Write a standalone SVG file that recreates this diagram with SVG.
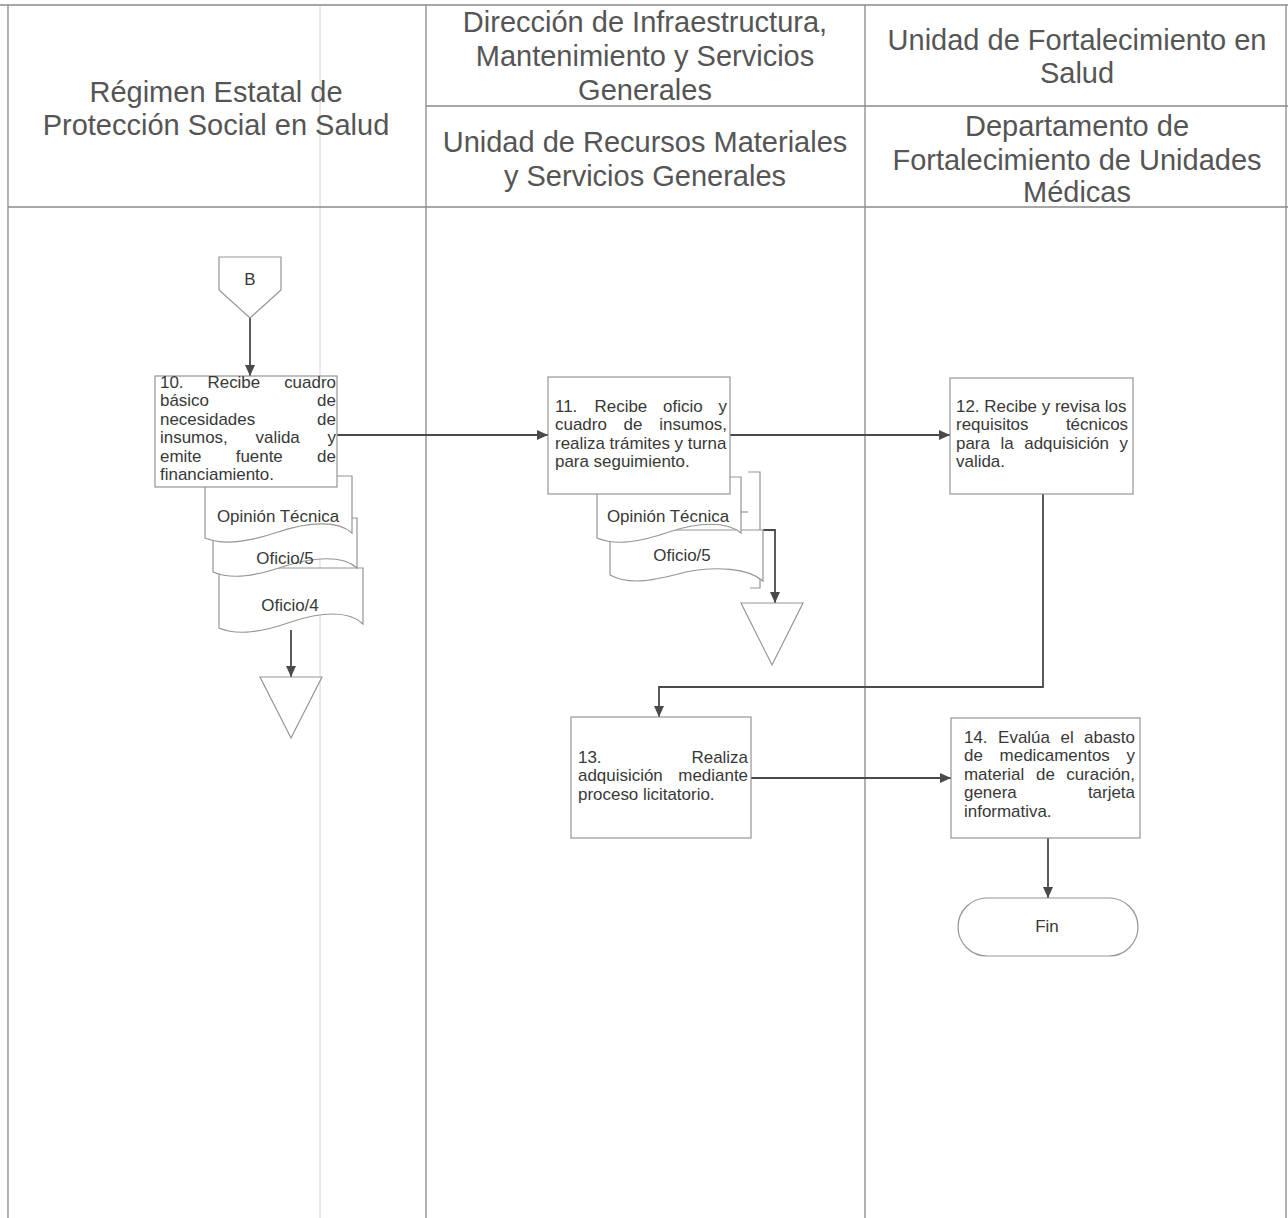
<svg xmlns="http://www.w3.org/2000/svg" width="1288" height="1218" viewBox="0 0 1288 1218">
  <defs>
    <marker id="arrow" markerUnits="userSpaceOnUse" markerWidth="11" markerHeight="10" refX="11" refY="5" orient="auto">
      <path d="M0,0 L11,5 L0,10 Z" fill="#4a4a4a"/>
    </marker>
    <style>
      .frame { stroke: #8a8a8a; stroke-width: 1.3; fill: none; }
      .fold { stroke: #d4d4d4; stroke-width: 1; fill: none; }
      .lane { font-family: "Liberation Sans", Arial, sans-serif; font-size: 29px; fill: #555; text-anchor: middle; }
      .shape { fill: #fff; stroke: #959595; stroke-width: 1.2; }
      .bracket { fill: none; stroke: #959595; stroke-width: 1.2; }
      .txt { font-family: "Liberation Sans", Arial, sans-serif; font-size: 16px; fill: #383838; }
      .mid { text-anchor: middle; }
      .end { text-anchor: end; }
      .conn { fill: none; stroke: #4a4a4a; stroke-width: 1.8; }
    </style>
  </defs>

  <rect width="1288" height="1218" fill="#fff"/>

  <!-- swimlane frame -->
  <g id="lanes">
    <path class="fold" d="M320,5 V1218"/>
    <path class="frame" d="M0,5 H1288 M8,5 V1218 M426,5 V1218 M865,5 V1218 M1286,5 V1218 M8,207 H1288 M426,106 H1288"/>
    <text class="lane" x="216" y="102">Régimen Estatal de</text>
    <text class="lane" x="216" y="135">Protección Social en Salud</text>
    <text class="lane" x="645" y="32">Dirección de Infraestructura,</text>
    <text class="lane" x="645" y="66">Mantenimiento y Servicios</text>
    <text class="lane" x="645" y="100">Generales</text>
    <text class="lane" x="645" y="152">Unidad de Recursos Materiales</text>
    <text class="lane" x="645" y="186">y Servicios Generales</text>
    <text class="lane" x="1077" y="50">Unidad de Fortalecimiento en</text>
    <text class="lane" x="1077" y="83">Salud</text>
    <text class="lane" x="1077" y="136">Departamento de</text>
    <text class="lane" x="1077" y="170">Fortalecimiento de Unidades</text>
    <text class="lane" x="1077" y="202">Médicas</text>
  </g>

  <!-- connectors -->
  <g id="connectors">
    <path class="conn" d="M250,318 V376" marker-end="url(#arrow)"/>
    <path class="conn" d="M337,435 H548" marker-end="url(#arrow)"/>
    <path class="conn" d="M730,435 H950" marker-end="url(#arrow)"/>
    <path class="conn" d="M291,630 V677" marker-end="url(#arrow)"/>
    <path class="conn" d="M763,530 H775 V603" marker-end="url(#arrow)"/>
    <path class="conn" d="M1043,494 V687 H659 V717" marker-end="url(#arrow)"/>
    <path class="conn" d="M751,778 H951" marker-end="url(#arrow)"/>
    <path class="conn" d="M1048,838 V898" marker-end="url(#arrow)"/>
  </g>

  <!-- off-page connector B -->
  <g id="connector-b">
    <path class="shape" d="M219,257 H281 V290 L250,318 L219,290 Z"/>
    <text class="txt mid" transform="translate(250,285) scale(1.06,1)">B</text>
  </g>

  <!-- documents produced in step 10 -->
  <g id="docs-10">
    <path class="shape" d="M219,568 H363 V624 C349,610 320,612 291,622 C262,632 238,636 219,628 Z"/>
    <text class="txt mid" transform="translate(290,611) scale(1.06,1)">Oficio/4</text>
    <path class="shape" d="M213,518 H357 V568 C343,555 314,557 285,566 C256,576 232,580 213,572 Z"/>
    <text class="txt mid" transform="translate(285,564) scale(1.06,1)">Oficio/5</text>
    <path class="shape" d="M205,476 H352 V533 C338,520 308,522 278,532 C249,542 224,546 205,538 Z"/>
    <text class="txt mid" transform="translate(278,522) scale(1.06,1)">Opinión Técnica</text>
  </g>

  <!-- step 10 -->
  <g id="step-10">
    <rect class="shape" x="155" y="376" width="182" height="111"/>
    <g class="txt" transform="translate(160,0) scale(1.06,1)">
      <text x="0" y="388">10.</text><text x="44.8" y="388">Recibe</text><text class="end" x="166" y="388">cuadro</text>
      <text x="0" y="406.5">básico</text><text class="end" x="166" y="406.5">de</text>
      <text x="0" y="425">necesidades</text><text class="end" x="166" y="425">de</text>
      <text x="0" y="443.5">insumos,</text><text x="90.1" y="443.5">valida</text><text class="end" x="166" y="443.5">y</text>
      <text x="0" y="462">emite</text><text x="71.4" y="462">fuente</text><text class="end" x="166" y="462">de</text>
      <text x="0" y="480.5">financiamiento.</text>
    </g>
  </g>

  <!-- documents produced in step 11 -->
  <g id="docs-11">
    <path class="bracket" d="M748,472 H760 V588 H750"/>
    <path class="shape" d="M610,530 H763 V581 C748,568 716,566 686,572 C656,580 630,586 610,575 Z"/>
    <text class="txt mid" transform="translate(682,561) scale(1.06,1)">Oficio/5</text>
    <path class="shape" d="M597,477 H741 V533 C727,521 698,522 669,532 C640,542 616,546 597,538 Z"/>
    <text class="txt mid" transform="translate(668,522) scale(1.06,1)">Opinión Técnica</text>
    <path class="bracket" d="M741,512 H748"/>
  </g>

  <!-- step 11 -->
  <g id="step-11">
    <rect class="shape" x="548" y="377" width="182" height="117"/>
    <g class="txt" transform="translate(555,0) scale(1.06,1)">
      <text x="0" y="412">11.</text><text x="37.3" y="412">Recibe</text><text x="102" y="412">oficio</text><text class="end" x="162.3" y="412">y</text>
      <text x="0" y="430.5">cuadro</text><text x="64.7" y="430.5">de</text><text class="end" x="162.3" y="430.5">insumos,</text>
      <text x="0" y="449">realiza trámites y turna</text>
      <text x="0" y="467.5">para seguimiento.</text>
    </g>
  </g>

  <!-- archive triangles -->
  <g id="archive-10">
    <path class="shape" d="M260,677 H322 L291,738 Z"/>
  </g>
  <g id="archive-11">
    <path class="shape" d="M741,603 H803 L772,665 Z"/>
  </g>

  <!-- step 12 -->
  <g id="step-12">
    <rect class="shape" x="950" y="378" width="183" height="116"/>
    <g class="txt" transform="translate(956,0) scale(1.06,1)">
      <text x="0" y="412">12. Recibe y revisa los</text>
      <text x="0" y="430.5">requisitos</text><text class="end" x="162.3" y="430.5">técnicos</text>
      <text x="0" y="449">para</text><text x="41.9" y="449">la</text><text x="64.4" y="449">adquisición</text><text class="end" x="162.3" y="449">y</text>
      <text x="0" y="467.5">valida.</text>
    </g>
  </g>

  <!-- step 13 -->
  <g id="step-13">
    <rect class="shape" x="571" y="717" width="180" height="121"/>
    <g class="txt" transform="translate(578,0) scale(1.06,1)">
      <text x="0" y="763">13.</text><text class="end" x="160.4" y="763">Realiza</text>
      <text x="0" y="781.5">adquisición</text><text class="end" x="160.4" y="781.5">mediante</text>
      <text x="0" y="800">proceso licitatorio.</text>
    </g>
  </g>

  <!-- step 14 -->
  <g id="step-14">
    <rect class="shape" x="951" y="718" width="189" height="120"/>
    <g class="txt" transform="translate(964,0) scale(1.06,1)">
      <text x="0" y="743">14.</text><text x="32.2" y="743">Evalúa</text><text x="91" y="743">el</text><text class="end" x="161.3" y="743">abasto</text>
      <text x="0" y="761.5">de</text><text x="33.6" y="761.5">medicamentos</text><text class="end" x="161.3" y="761.5">y</text>
      <text x="0" y="780">material</text><text x="67.9" y="780">de</text><text class="end" x="161.3" y="780">curación,</text>
      <text x="0" y="798.5">genera</text><text class="end" x="161.3" y="798.5">tarjeta</text>
      <text x="0" y="817">informativa.</text>
    </g>
  </g>

  <!-- end terminator -->
  <g id="fin">
    <rect class="shape" x="958" y="898" width="180" height="58" rx="29" ry="29"/>
    <text class="txt mid" transform="translate(1047,932) scale(1.06,1)">Fin</text>
  </g>
</svg>
